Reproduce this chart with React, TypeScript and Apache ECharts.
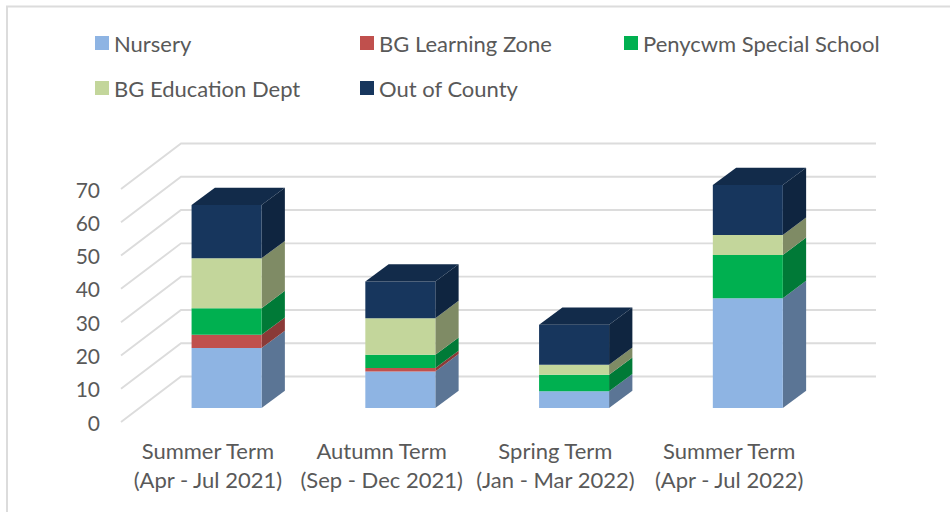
import React, { useEffect, useRef } from "react";
import * as echarts from "echarts";

const categories = [
  "Summer Term\n(Apr - Jul 2021)",
  "Autumn Term\n(Sep - Dec 2021)",
  "Spring Term\n(Jan - Mar 2022)",
  "Summer Term\n(Apr - Jul 2022)",
];
const yTicks = [0, 10, 20, 30, 40, 50, 60, 70];
const nursery = [18, 11, 5, 33];
const learningZone = [4, 1, 0, 0];
const penycwm = [8, 4, 5, 13];
const educationDept = [15, 11, 3, 6];
const outOfCounty = [16, 11, 12, 15];

const seriesDefs = [
  { name: "Nursery", values: nursery, front: "#8EB4E3", side: "#5B7595", top: "#7396C0" },
  { name: "BG Learning Zone", values: learningZone, front: "#C0504D", side: "#8A3A37", top: "#A04340" },
  { name: "Penycwm Special School", values: penycwm, front: "#00B050", side: "#007A37", top: "#009040" },
  { name: "BG Education Dept", values: educationDept, front: "#C3D69B", side: "#7F8B65", top: "#A0B080" },
  { name: "Out of County", values: outOfCounty, front: "#17365D", side: "#0F2540", top: "#122B4A" },
];

const FONT = "Lato";
const TEXT = "#595959";
const GRID_LEFT = 121;
const GRID_TOP = 189;
const GRID_W = 695;
const GRID_H = 233;
const WALL_DX = 60;
const WALL_DY = 45.5;
const BAR_W = 70;
const BAR_SHIFT_X = 18.7;
const BAR_SHIFT_Y = 14;
const DEPTH_X = 23.3;
const DEPTH_Y = 17.3;

const legendPos = [
  { left: 95, top: 32 },
  { left: 360, top: 32 },
  { left: 624, top: 32 },
  { left: 95, top: 77 },
  { left: 360, top: 77 },
];

function buildOption() {
  const totals = categories.map(() => 0);
  const barSeries = seriesDefs.map((def, si) => {
    const data = def.values.map((v, i) => {
      const start = totals[i];
      totals[i] += v;
      return [i, start, totals[i]];
    });
    return {
      type: "custom",
      name: def.name,
      coordinateSystem: "cartesian2d",
      itemStyle: { color: def.front },
      encode: { x: 0, y: [1, 2] },
      data,
      z: 3 + si,
      silent: true,
      renderItem: (_p: any, api: any) => {
        const i = api.value(0);
        const s = api.value(1);
        const e = api.value(2);
        if (e <= s) return { type: "group", children: [] };
        const base = api.coord([i, s]);
        const tip = api.coord([i, e]);
        const l = base[0] + BAR_SHIFT_X - BAR_W / 2;
        const r = l + BAR_W;
        const yb = base[1] - BAR_SHIFT_Y;
        const yt = tip[1] - BAR_SHIFT_Y;
        const children: any[] = [
          {
            type: "polygon",
            shape: { points: [[r, yb], [r + DEPTH_X, yb - DEPTH_Y], [r + DEPTH_X, yt - DEPTH_Y], [r, yt]] },
            style: { fill: def.side },
          },
          { type: "rect", shape: { x: l, y: yt, width: BAR_W, height: yb - yt }, style: { fill: def.front } },
        ];
        if (si === seriesDefs.length - 1) {
          children.push({
            type: "polygon",
            shape: { points: [[l, yt], [l + DEPTH_X, yt - DEPTH_Y], [r + DEPTH_X, yt - DEPTH_Y], [r, yt]] },
            style: { fill: def.top },
          });
        }
        return { type: "group", children };
      },
    };
  });

  const wallSeries = {
    type: "custom",
    coordinateSystem: "cartesian2d",
    encode: { y: 1 },
    silent: true,
    z: 1,
    data: yTicks.map((t) => [0, t]),
    renderItem: (p: any, api: any) => {
      const y = api.coord([0, api.value(1)])[1];
      const x0 = p.coordSys.x;
      const x1 = x0 + p.coordSys.width;
      return {
        type: "polyline",
        shape: { points: [[x0, y], [x0 + WALL_DX, y - WALL_DY], [x1 + WALL_DX, y - WALL_DY]] },
        style: { stroke: "#DCDCDC", lineWidth: 1.9, fill: "none" },
      };
    },
  };

  return {
    animation: false,
    backgroundColor: "#FFFFFF",
    legend: seriesDefs.map((def, i) => ({
      show: true,
      data: [def.name],
      left: legendPos[i].left,
      top: legendPos[i].top,
      padding: 0,
      icon: "rect",
      itemWidth: 14,
      itemHeight: 14,
      selectedMode: false,
      textStyle: { fontFamily: FONT, fontSize: 22, color: TEXT },
    })),
    grid: { left: GRID_LEFT, top: GRID_TOP, width: GRID_W, height: GRID_H, containLabel: false },
    xAxis: {
      type: "category",
      data: categories,
      axisLine: { show: false },
      axisTick: { show: false },
      splitLine: { show: false },
      axisLabel: { interval: 0, margin: 14, fontFamily: FONT, fontSize: 22, lineHeight: 29, color: TEXT },
    },
    yAxis: {
      type: "value",
      min: 0,
      max: 70,
      interval: 10,
      axisLine: { show: false },
      axisTick: { show: false },
      splitLine: { show: false },
      axisLabel: { margin: 21, fontFamily: FONT, fontSize: 21, color: TEXT },
    },
    graphic: [
      {
        type: "polyline",
        silent: true,
        shape: { points: [[7, 512], [7, 6.5], [950, 6.5]] },
        style: { stroke: "#DCDCDC", lineWidth: 2, fill: "none" },
      },
    ],
    series: [wallSeries, ...barSeries],
  };
}

export default function App() {
  const ref = useRef<HTMLDivElement>(null);
  useEffect(() => {
    document.body.style.margin = "0";
    const chart = echarts.init(ref.current!, null, { renderer: "svg" });
    chart.setOption(buildOption() as any);
    return () => chart.dispose();
  }, []);
  return <div ref={ref} style={{ width: 950, height: 512, overflow: "hidden" }} />;
}
